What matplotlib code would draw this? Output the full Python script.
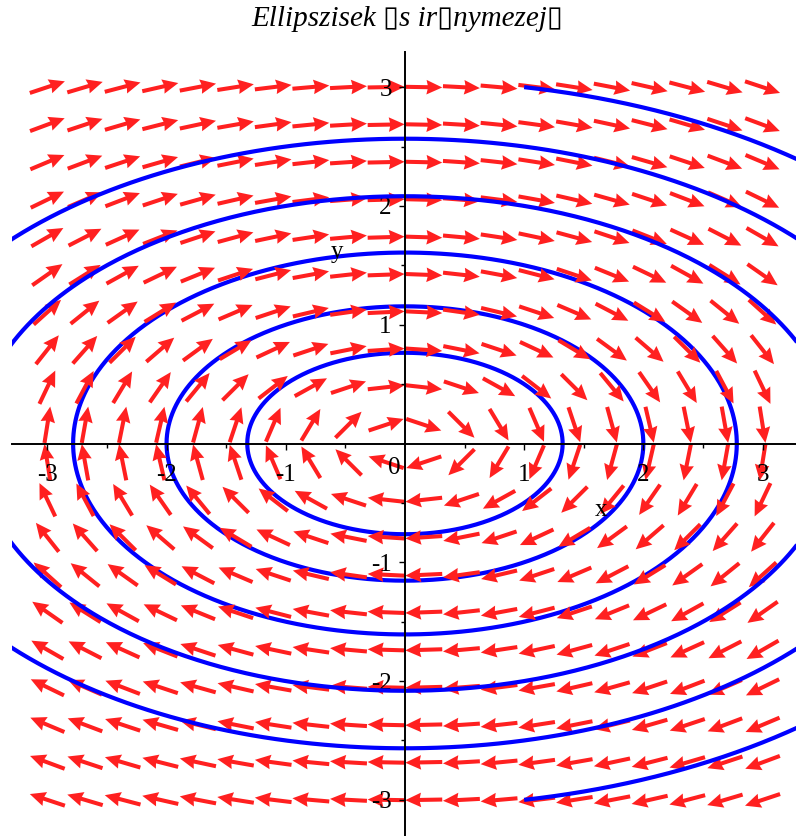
import numpy as np
import matplotlib
matplotlib.use("Agg")
import matplotlib.pyplot as plt
from matplotlib.ticker import FixedLocator

# Direction field x' = 3y, y' = -x and trajectories x^2 + 3y^2 = const
title_text = "Ellipszisek \u25afs ir\u25afnymezej\u25af"
start_x = 1.0
start_y = [0.5, 1.0, 1.5, 2.0, 2.5, 3.0]
full_loop = [True, True, True, True, True, False]
grid_min, grid_max, grid_n = -3.0, 3.0, 20
x_ticks = [-3, -2, -1, 1, 2, 3]
x_tick_labels = ["-3", "-2", "-1", "1", "2", "3"]
y_ticks = [-3, -2, -1, 1, 2, 3]
y_tick_labels = ["-3", "-2", "-1", "1", "2", "3"]
minor_ticks = [-2.5, -1.5, -0.5, 0.5, 1.5, 2.5]
view = (-3.3, 3.3)

serif = ["Liberation Serif", "DejaVu Serif"]
arrow_color = "#ff2020"
curve_color = "#0000ff"

fig = plt.figure(figsize=(7.96, 8.36), dpi=100)
ax = fig.add_axes([11.6 / 796, 0.5 / 836, 786.7 / 796, 784 / 836])
ax.set_xlim(*view)
ax.set_ylim(*view)

# arrows of the direction field
g = np.linspace(grid_min, grid_max, grid_n)
X, Y = np.meshgrid(g, g)
U = 3 * Y
V = -X
norm = np.hypot(U, V)
arrow_len = 0.31
ax.quiver(X, Y, U / norm * arrow_len, V / norm * arrow_len,
          angles="xy", scale_units="xy", scale=1, pivot="middle",
          units="xy", width=0.034, headwidth=3.6, headlength=3.9,
          headaxislength=3.6, color=arrow_color, zorder=1.5)

# solution curves through (1, y0)
for k, (y0, full) in enumerate(zip(start_y, full_loop)):
    c = start_x ** 2 + 3 * y0 ** 2
    a = np.sqrt(c)
    b = np.sqrt(c / 3)
    th0 = np.arctan2(y0 / b, start_x / a)
    if full:
        th = np.linspace(th0, th0 - 2 * np.pi, 800)
    else:
        th = np.linspace(th0, -th0, 800)
    ax.plot(a * np.cos(th), b * np.sin(th), color=curve_color, lw=3.0,
            solid_capstyle="butt", zorder=1.2 if k < 3 else 2.0)

# axes through the origin
for s in ("top", "right"):
    ax.spines[s].set_visible(False)
for s in ("left", "bottom"):
    ax.spines[s].set_position(("data", 0))
    ax.spines[s].set_linewidth(1.4)
    ax.spines[s].set_zorder(3)

ax.set_xticks(x_ticks, x_tick_labels)
ax.set_yticks(y_ticks, y_tick_labels)
ax.xaxis.set_minor_locator(FixedLocator(minor_ticks))
ax.yaxis.set_minor_locator(FixedLocator(minor_ticks))
ax.tick_params(which="major", direction="out", length=4.5, width=1.0,
               labelsize=18, pad=10)
ax.tick_params(which="minor", direction="out", length=3.0, width=1.0)
ax.tick_params(axis="y", which="major", pad=5)
for lab in ax.get_xticklabels() + ax.get_yticklabels():
    lab.set_fontfamily(serif)

ax.text(-0.092, -0.21, "0", fontsize=18, family=serif,
        ha="center", va="center")
ax.text(1.644, -0.56, "x", fontsize=18, family=serif,
        ha="center", va="center")
ax.text(-0.57, 1.61, "y", fontsize=18, family=serif,
        ha="center", va="center")

fig.text(407 / 796, 1 - 19 / 836, title_text, fontsize=21,
         family=["Liberation Serif", "DejaVu Sans"], style="italic",
         ha="center", va="center")

fig.savefig("out.png", dpi=100)
